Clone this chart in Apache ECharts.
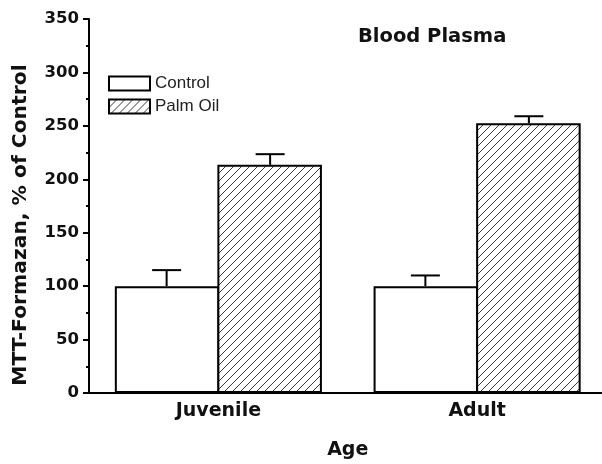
<!DOCTYPE html>
<html>
<head>
<meta charset="utf-8">
<script src="https://cdn.jsdelivr.net/npm/echarts@6/dist/echarts.min.js"></script>
<style>html,body{margin:0;padding:0;background:#fff;}#c{width:602px;height:464px;}</style>
</head>
<body>
<div id="c"></div>
<script>
const categories = ['Juvenile', 'Adult'];
const controlMeans = [100, 100];
const controlErr = [15, 10];
const palmMeans = [213.5, 252.5];
const palmErr = [10, 6.5];
const yTicks = [0, 50, 100, 150, 200, 250, 300, 350];

// hatch pattern
const T = 8;
const tile = document.createElement('canvas');
tile.width = T; tile.height = T;
const g = tile.getContext('2d');
g.fillStyle = '#fff'; g.fillRect(0, 0, T, T);
g.strokeStyle = '#3a3a3a'; g.lineWidth = 1;
g.beginPath();
g.moveTo(-1, T + 1); g.lineTo(T + 1, -1);
g.moveTo(-1, 1); g.lineTo(1, -1);
g.moveTo(T - 1, T + 1); g.lineTo(T + 1, T - 1);
g.stroke();
const hatch = { image: tile, repeat: 'repeat' };

const BOLD = 'DejaVu Sans';
function errSeries(name, means, errs, off) {
  return {
    type: 'custom',
    name: name + ' err',
    z: 5,
    data: means.map((m, i) => [i, m, m + errs[i]]),
    encode: { x: 0, y: [1, 2] },
    renderItem: function (params, api) {
      const p0 = api.coord([api.value(0), api.value(1)]);
      const p1 = api.coord([api.value(0), api.value(2)]);
      const bw = api.size([1, 0])[0];
      const x = p0[0] + off * bw;
      const half = 14.5;
      const st = { stroke: '#000', lineWidth: 2 };
      return {
        type: 'group',
        children: [
          { type: 'line', shape: { x1: x, y1: p0[1], x2: x, y2: p1[1] }, style: st },
          { type: 'line', shape: { x1: x - half, y1: p1[1], x2: x + half, y2: p1[1] }, style: st }
        ]
      };
    }
  };
}

const chart = echarts.init(document.getElementById('c'), null, { renderer: 'canvas' });
chart.setOption({
  animation: false,
  backgroundColor: '#fff',
  title: {
    text: 'Blood Plasma',
    left: 358, top: 27, padding: 0,
    textStyle: { fontFamily: BOLD, fontWeight: 'bold', fontSize: 19.5, color: '#111' }
  },
  legend: {
    orient: 'vertical',
    left: 108, top: 75, padding: 0,
    itemWidth: 41, itemHeight: 14, itemGap: 6,
    icon: 'rect',
    data: [
      { name: 'Control', itemStyle: { color: '#fff', borderColor: '#000', borderWidth: 2 } },
      { name: 'Palm Oil', itemStyle: { color: hatch, borderColor: '#000', borderWidth: 2 } }
    ],
    textStyle: { fontFamily: 'Liberation Sans', fontSize: 17, color: '#222', lineHeight: 14 }
  },
  graphic: [{
    type: 'text',
    x: 21, y: 225,
    rotation: Math.PI / 2,
    style: {
      text: 'MTT-Formazan, % of Control',
      font: 'bold 20.3px "DejaVu Sans"',
      fill: '#111',
      textAlign: 'center',
      textVerticalAlign: 'middle'
    }
  }],
  grid: { left: 89, top: 19, bottom: 71, right: -4.5, containLabel: false, outerBoundsMode: 'none' },
  xAxis: {
    type: 'category',
    data: categories,
    name: 'Age',
    nameLocation: 'middle',
    nameGap: 48,
    nameTextStyle: { fontFamily: BOLD, fontWeight: 'bold', fontSize: 19, color: '#111' },
    axisLine: { lineStyle: { color: '#000', width: 2 } },
    axisTick: { show: false },
    axisLabel: { fontFamily: BOLD, fontWeight: 'bold', fontSize: 19, color: '#111', margin: 9 },
    splitLine: { show: false }
  },
  yAxis: {
    type: 'value',
    min: yTicks[0], max: yTicks[yTicks.length - 1], interval: 50,
    axisLine: { show: true, lineStyle: { color: '#000', width: 2 } },
    axisTick: { show: true, length: 6, lineStyle: { color: '#000', width: 2 } },
    minorTick: { show: true, splitNumber: 2, length: 3, lineStyle: { color: '#000', width: 2 } },
    axisLabel: { fontFamily: BOLD, fontWeight: 'bold', fontSize: 16.5, color: '#111', margin: 10 },
    splitLine: { show: false }
  },
  series: [
    {
      type: 'bar', name: 'Control', data: controlMeans,
      barWidth: '40.4%', barGap: '-1.9%',
      itemStyle: { color: '#fff', borderColor: '#000', borderWidth: 2 }
    },
    {
      type: 'bar', name: 'Palm Oil', data: palmMeans,
      barWidth: '40.4%', barGap: '-1.9%',
      itemStyle: { color: hatch, borderColor: '#000', borderWidth: 2 }
    },
    errSeries('Control', controlMeans, controlErr, -0.2),
    errSeries('Palm Oil', palmMeans, palmErr, 0.2)
  ]
});
</script>
</body>
</html>
